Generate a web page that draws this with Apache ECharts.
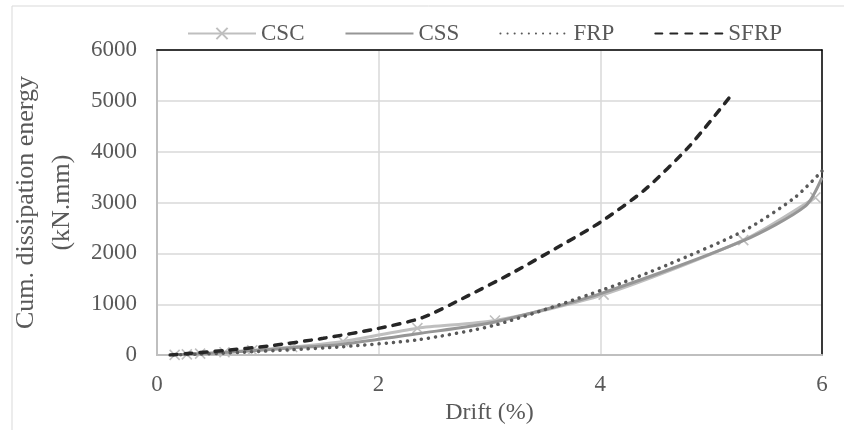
<!DOCTYPE html>
<html>
<head>
<meta charset="utf-8">
<script src="https://cdn.jsdelivr.net/npm/echarts@6/dist/echarts.min.js"></script>
<style>
html,body{margin:0;padding:0;background:#fff;}
#chart{width:844px;height:430px;}
</style>
</head>
<body>
<div id="chart"></div>
<script>
// ---- data ----
const seriesNames = ['CSC', 'CSS', 'FRP', 'SFRP'];
const xTicks = [0, 2, 4, 6];
const yTicks = [0, 1000, 2000, 3000, 4000, 5000, 6000];

const cscDrift = [0.16, 0.27, 0.39, 0.61, 0.86, 1.22, 1.68, 2.35, 3.05, 4.03, 5.29, 5.94];
const cscEnergy = [5, 15, 30, 55, 95, 160, 270, 530, 680, 1190, 2260, 3100];

const cssDrift = [0.15, 0.26, 0.38, 0.6, 0.85, 1.2, 1.68, 2.35, 3.05, 4.03, 5.29, 5.85, 6.0];
const cssEnergy = [5, 15, 28, 50, 85, 140, 215, 420, 650, 1230, 2250, 2930, 3490];

const frpDrift = [0.15, 0.25, 0.38, 0.6, 0.85, 1.2, 1.68, 2.35, 3.05, 4.03, 4.6, 5.3, 5.75, 6.0];
const frpEnergy = [3, 8, 18, 38, 65, 105, 165, 300, 590, 1290, 1770, 2450, 3090, 3620];

const sfrpDrift = [0.12, 0.3, 0.6, 1.0, 1.5, 2.0, 2.4, 2.8, 3.2, 3.6, 4.0, 4.4, 4.8, 5.17];
const sfrpEnergy = [0, 35, 90, 177, 330, 525, 740, 1160, 1610, 2100, 2613, 3250, 4100, 5080];

// ---- chart ----
const pair = (xs, ys) => xs.map((x, i) => [x, ys[i]]);
const serif = '"Liberation Serif", "Times New Roman", serif';
const textCol = '#595959';

const chart = echarts.init(document.getElementById('chart'));
chart.setOption({
  animation: false,
  backgroundColor: '#fff',
  textStyle: { fontFamily: serif },
  graphic: [{
    type: 'rect', silent: true, z: -10,
    shape: { x: 12, y: 6, width: 900, height: 600 },
    style: { fill: 'none', stroke: '#d9d9d9', lineWidth: 1 }
  }],
  legend: {
    data: [
      { name: 'CSC' },
      { name: 'CSS', itemStyle: { opacity: 0 } },
      { name: 'FRP', itemStyle: { opacity: 0 } },
      { name: 'SFRP', itemStyle: { opacity: 0 } }
    ],
    left: 182, top: 17,
    itemWidth: 68, itemHeight: 14, itemGap: 40,
    textStyle: { fontFamily: serif, fontSize: 23, color: textCol }
  },
  grid: { left: 148, right: 22, top: 50, bottom: 64, containLabel: false },
  xAxis: [{
    type: 'value', min: xTicks[0], max: xTicks[xTicks.length - 1], interval: 2,
    name: 'Drift (%)', nameLocation: 'middle', nameGap: 35,
    nameTextStyle: { fontFamily: serif, fontSize: 24, color: textCol },
    axisLine: { show: true, lineStyle: { color: '#bfbfbf', width: 2 } },
    axisTick: { show: false },
    axisLabel: { fontFamily: serif, fontSize: 23, color: textCol, margin: 18 },
    splitLine: { show: true, lineStyle: { color: '#d9d9d9', width: 1.5 } }
  }, {
    type: 'value', position: 'top', min: 0, max: 6,
    axisLine: { show: true, onZero: false, lineStyle: { color: '#000', width: 1.5 } },
    axisTick: { show: false }, axisLabel: { show: false }, splitLine: { show: false }
  }],
  yAxis: [{
    type: 'value', min: yTicks[0], max: yTicks[yTicks.length - 1], interval: 1000,
    name: 'Cum. dissipation energy\n(kN.mm)', nameLocation: 'middle', nameGap: 62, nameRotate: 90,
    nameTextStyle: { fontFamily: serif, fontSize: 26, color: textCol, lineHeight: 36 },
    axisLine: { show: true, lineStyle: { color: '#bfbfbf', width: 2 } },
    axisTick: { show: false },
    axisLabel: { fontFamily: serif, fontSize: 23, color: textCol, margin: 20, formatter: v => String(v) },
    splitLine: { show: true, lineStyle: { color: '#d9d9d9', width: 1.5 } }
  }, {
    type: 'value', position: 'right', min: 0, max: 6000,
    axisLine: { show: true, onZero: false, lineStyle: { color: '#000', width: 1.5 } },
    axisTick: { show: false }, axisLabel: { show: false }, splitLine: { show: false }
  }],
  series: [{
    name: 'CSC', type: 'line', smooth: 0.25,
    data: pair(cscDrift, cscEnergy),
    symbol: 'path://M0,0L10,10M10,0L0,10', symbolSize: 10, showSymbol: true,
    lineStyle: { color: '#bfbfbf', width: 3 },
    itemStyle: { color: '#bfbfbf', borderColor: '#bfbfbf', borderWidth: 1.6 },
    z: 3
  }, {
    name: 'CSS', type: 'line', smooth: 0.25,
    data: pair(cssDrift, cssEnergy),
    symbol: 'none',
    lineStyle: { color: '#969696', width: 3 },
    itemStyle: { color: '#969696' },
    z: 4
  }, {
    name: 'FRP', type: 'line', smooth: 0.25,
    data: pair(frpDrift, frpEnergy),
    symbol: 'none',
    lineStyle: { color: '#595959', width: 3.5, type: [0.1, 7], cap: 'round' },
    itemStyle: { color: '#595959' },
    z: 5
  }, {
    name: 'SFRP', type: 'line', smooth: 0.25,
    data: pair(sfrpDrift, sfrpEnergy),
    symbol: 'none',
    lineStyle: { color: '#262626', width: 3.5, type: [7, 8], cap: 'round' },
    itemStyle: { color: '#262626' },
    z: 6
  }]
});
</script>
</body>
</html>
